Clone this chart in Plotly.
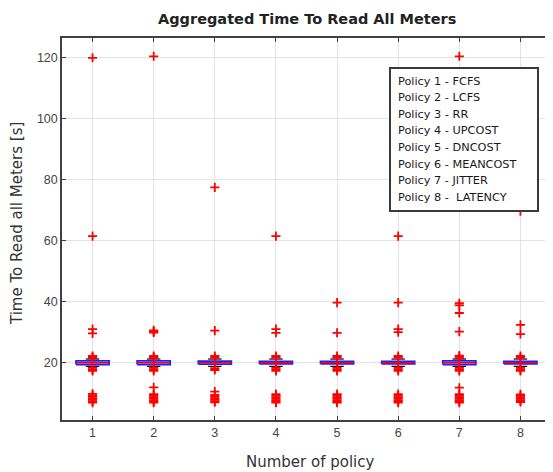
import plotly.graph_objects as go

# ---------------- data ----------------
policies = [1, 2, 3, 4, 5, 6, 7, 8]
tick_labels = ["1", "2", "3", "4", "5", "6", "7", "8"]
y_ticks = [20, 40, 60, 80, 100, 120]
legend_lines = [
    "Policy 1 - FCFS",
    "Policy 2 - LCFS",
    "Policy 3 - RR",
    "Policy 4 - UPCOST",
    "Policy 5 - DNCOST",
    "Policy 6 - MEANCOST",
    "Policy 7 - JITTER",
    "Policy 8 -\u00a0 LATENCY",
]
q1 = [19.4, 19.4, 19.5, 19.6, 19.6, 19.6, 19.4, 19.6]
medians = [20.0, 20.0, 20.0, 20.0, 20.0, 20.0, 20.0, 20.0]
q3 = [20.6, 20.6, 20.5, 20.4, 20.4, 20.4, 20.6, 20.4]
whisker_lo = [18.8, 18.8, 18.8, 18.8, 18.8, 18.8, 18.8, 18.8]
whisker_hi = [21.2, 21.2, 21.2, 21.2, 21.2, 21.2, 21.2, 21.2]

outliers_p1 = [120.0, 61.5, 31.0, 29.6, 22.2, 21.8, 21.5, 18.3, 17.8, 17.3,
               9.8, 9.3, 8.8, 8.3, 7.8, 7.3, 6.9]
outliers_p2 = [120.5, 30.6, 30.2, 29.9, 22.2, 21.8, 21.5, 18.3, 17.8, 17.3,
               11.9, 9.7, 9.2, 8.7, 8.2, 7.7, 7.2, 6.9]
outliers_p3 = [77.5, 30.5, 22.2, 21.7, 18.2, 17.6, 10.5, 9.4, 8.9, 8.4,
               7.9, 7.4, 7.0]
outliers_p4 = [61.5, 31.0, 29.8, 22.2, 21.7, 18.3, 17.8, 17.3, 9.7, 9.2,
               8.7, 8.2, 7.7, 7.2, 6.9]
outliers_p5 = [39.7, 29.8, 22.2, 21.7, 18.3, 17.8, 17.3, 9.7, 9.2, 8.7,
               8.2, 7.7, 7.2, 6.9]
outliers_p6 = [61.5, 39.7, 31.0, 30.0, 22.2, 21.7, 18.3, 17.8, 17.3, 9.7,
               9.2, 8.7, 8.2, 7.7, 7.2, 6.9]
outliers_p7 = [120.5, 39.5, 38.8, 36.3, 30.2, 22.3, 21.9, 21.5, 18.3, 17.8,
               17.3, 11.8, 9.7, 9.2, 8.7, 8.2, 7.7, 7.2, 6.9]
outliers_p8 = [69.7, 32.4, 29.4, 22.2, 21.7, 18.3, 17.8, 17.3, 9.6, 9.1,
               8.6, 8.1, 7.6, 7.1]
outliers = [outliers_p1, outliers_p2, outliers_p3, outliers_p4,
            outliers_p5, outliers_p6, outliers_p7, outliers_p8]

# ---------------- styles ----------------
FONT = "Liberation Sans, Arial, sans-serif"
FONT_W = "DejaVu Sans, Verdana, sans-serif"
BOX_HALF = 0.27
CAP_HALF = 0.11

fig = go.Figure()

bx, by = [], []
for p, a, b in zip(policies, q1, q3):
    bx += [p - BOX_HALF, p + BOX_HALF, p + BOX_HALF, p - BOX_HALF, p - BOX_HALF, None]
    by += [a, a, b, b, a, None]
wx, wy = [], []
cx, cy = [], []
for p, a, b, lo, hi in zip(policies, q1, q3, whisker_lo, whisker_hi):
    wx += [p, p, None, p, p, None]
    wy += [b, hi, None, a, lo, None]
    cx += [p - CAP_HALF, p + CAP_HALF, None, p - CAP_HALF, p + CAP_HALF, None]
    cy += [hi, hi, None, lo, lo, None]
mx, my = [], []
for p, m in zip(policies, medians):
    mx += [p - BOX_HALF, p + BOX_HALF, None]
    my += [m, m, None]

fig.add_trace(go.Scatter(x=wx, y=wy, mode="lines",
                         line=dict(color="black", width=1, dash="dash"),
                         hoverinfo="skip", showlegend=False))
fig.add_trace(go.Scatter(x=cx, y=cy, mode="lines",
                         line=dict(color="black", width=1.2),
                         hoverinfo="skip", showlegend=False))
fig.add_trace(go.Scatter(x=bx, y=by, mode="lines",
                         line=dict(color="#2020ff", width=1.8),
                         hoverinfo="skip", showlegend=False))
fig.add_trace(go.Scatter(x=mx, y=my, mode="lines",
                         line=dict(color="#ff0000", width=1.5),
                         hoverinfo="skip", showlegend=False))

ox, oy = [], []
for p, vals in zip(policies, outliers):
    ox += [p] * len(vals)
    oy += vals
fig.add_trace(go.Scatter(x=ox, y=oy, mode="markers",
                         marker=dict(symbol="cross-thin", size=6.5,
                                     line=dict(color="#ff0000", width=1.8)),
                         showlegend=False))

# page body has an 8px default margin: layout coords = screen coords - 8
OFF = 8
W, H = 553, 472
L, T, R, B = 62 - OFF, 38 - OFF, W - (551 - OFF), H - (420 - OFF)
pw, ph = W - L - R, H - T - B


def px2paper_x(px):
    return (px - OFF - L) / pw


def px2paper_y(py):
    return (H - B - (py - OFF)) / ph


# legend box
fig.add_shape(type="rect", xref="paper", yref="paper",
              x0=px2paper_x(390), x1=px2paper_x(538),
              y0=px2paper_y(211), y1=px2paper_y(68),
              line=dict(color="#3a3a3a", width=2), fillcolor="white", layer="above")
for i, txt in enumerate(legend_lines):
    fig.add_annotation(xref="paper", yref="paper",
                       x=px2paper_x(396), y=px2paper_y(81 + i * 16.6),
                       xanchor="left", yanchor="middle", showarrow=False,
                       text=txt, font=dict(family=FONT_W, size=11.3, color="#1a1a1a"))

# titles
fig.add_annotation(xref="paper", yref="paper", x=px2paper_x(307), y=px2paper_y(19),
                   xanchor="center", yanchor="middle", showarrow=False,
                   text="<b>Aggregated Time To Read All Meters</b>",
                   font=dict(family=FONT_W, size=14.5, color="#222"))
fig.add_annotation(xref="paper", yref="paper", x=px2paper_x(310), y=px2paper_y(462),
                   xanchor="center", yanchor="middle", showarrow=False,
                   text="Number of policy",
                   font=dict(family=FONT_W, size=15, color="#333"))
fig.add_annotation(xref="paper", yref="paper", x=px2paper_x(17), y=px2paper_y(224),
                   xanchor="center", yanchor="middle", showarrow=False, textangle=-90,
                   text="Time To Read all Meters [s]",
                   font=dict(family=FONT_W, size=15, color="#333"))

fig.update_layout(
    width=W, height=H,
    margin=dict(l=L, r=R, t=T, b=B, autoexpand=False),
    paper_bgcolor="white", plot_bgcolor="white",
    font=dict(family=FONT, color="#333"),
)
fig.update_xaxes(
    range=[0.5, 8.5], tickvals=policies, ticktext=tick_labels,
    showgrid=True, gridcolor="#e3e3e3", gridwidth=1,
    showline=True, linecolor="#404040", linewidth=1.5, mirror="ticks",
    ticks="inside", ticklen=4, tickcolor="#404040",
    tickfont=dict(family=FONT, size=12.5, color="#444"),
    zeroline=False, automargin=False,
)
fig.update_yaxes(
    range=[1.2, 126.5], tickvals=y_ticks,
    showgrid=True, gridcolor="#e3e3e3", gridwidth=1,
    showline=True, linecolor="#404040", linewidth=1.5, mirror="ticks",
    ticks="inside", ticklen=4, tickcolor="#404040",
    tickfont=dict(family=FONT, size=12.5, color="#444"),
    zeroline=False, automargin=False,
)

fig.write_html("out.html")
